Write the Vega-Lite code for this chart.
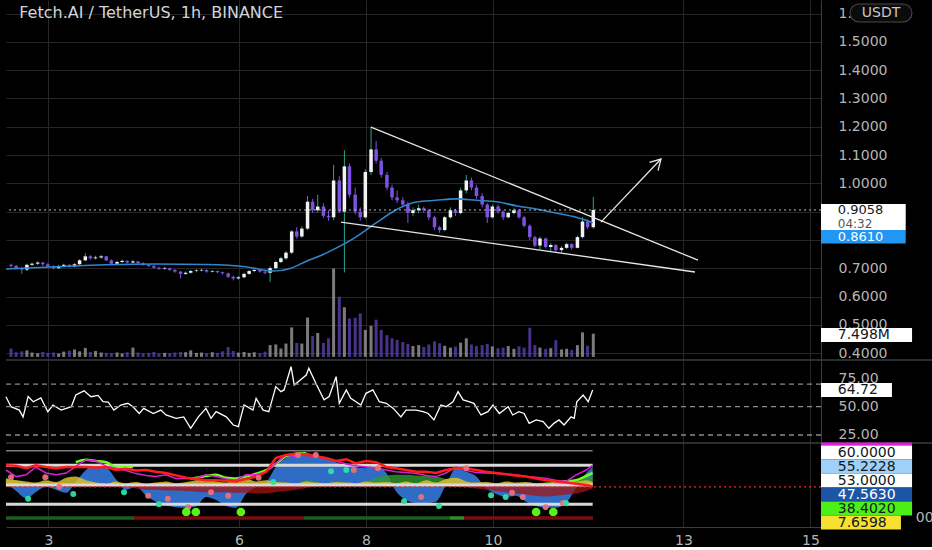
{
"$schema":"https://vega.github.io/schema/vega-lite/v6.json",
"background":"#000000",
"padding":0,
"spacing":0,
"bounds":"flush",
"config":{"view":{"stroke":null},"font":"DejaVu Sans","axis":{"labelFont":"DejaVu Sans","labelFontSize":14,"labelColor":"#b5b5b5","gridColor":"#262626","gridWidth":1,"domainColor":"#3c3c3c","ticks":false,"title":null,"labelOverlap":false}},
"datasets":{
"c":[
{"d":2.41,"o":0.712,"h":0.716,"l":0.702,"c":0.708,"v":2.7},{"d":2.49,"o":0.708,"h":0.712,"l":0.696,"c":0.700,"v":1.5},{"d":2.58,"o":0.700,"h":0.704,"l":0.680,"c":0.695,"v":1.8},{"d":2.66,"o":0.695,"h":0.716,"l":0.690,"c":0.712,"v":2.1},{"d":2.74,"o":0.712,"h":0.720,"l":0.708,"c":0.716,"v":1.4},{"d":2.83,"o":0.716,"h":0.724,"l":0.711,"c":0.720,"v":1.2},{"d":2.91,"o":0.720,"h":0.722,"l":0.708,"c":0.714,"v":1.6},{"d":2.99,"o":0.714,"h":0.718,"l":0.702,"c":0.706,"v":1.3},{"d":3.08,"o":0.706,"h":0.710,"l":0.696,"c":0.700,"v":1.4},{"d":3.16,"o":0.700,"h":0.712,"l":0.698,"c":0.708,"v":1.1},{"d":3.24,"o":0.708,"h":0.716,"l":0.704,"c":0.712,"v":1.7},{"d":3.33,"o":0.712,"h":0.714,"l":0.702,"c":0.706,"v":2.0},
{"d":3.41,"o":0.706,"h":0.718,"l":0.703,"c":0.714,"v":2.4},{"d":3.49,"o":0.714,"h":0.732,"l":0.712,"c":0.728,"v":1.8},{"d":3.58,"o":0.728,"h":0.753,"l":0.725,"c":0.742,"v":2.9},{"d":3.66,"o":0.742,"h":0.746,"l":0.730,"c":0.735,"v":1.6},{"d":3.74,"o":0.735,"h":0.744,"l":0.731,"c":0.738,"v":1.9},{"d":3.83,"o":0.738,"h":0.747,"l":0.734,"c":0.742,"v":1.4},{"d":3.91,"o":0.742,"h":0.744,"l":0.725,"c":0.728,"v":1.3},{"d":3.99,"o":0.728,"h":0.731,"l":0.712,"c":0.716,"v":1.2},{"d":4.08,"o":0.716,"h":0.726,"l":0.713,"c":0.722,"v":1.4},{"d":4.16,"o":0.722,"h":0.730,"l":0.719,"c":0.726,"v":1.1},{"d":4.24,"o":0.726,"h":0.728,"l":0.716,"c":0.720,"v":1.5},{"d":4.33,"o":0.720,"h":0.729,"l":0.717,"c":0.724,"v":3.0},
{"d":4.41,"o":0.724,"h":0.726,"l":0.714,"c":0.718,"v":1.4},{"d":4.49,"o":0.718,"h":0.721,"l":0.709,"c":0.712,"v":1.2},{"d":4.58,"o":0.712,"h":0.715,"l":0.704,"c":0.708,"v":1.3},{"d":4.66,"o":0.708,"h":0.711,"l":0.698,"c":0.702,"v":1.6},{"d":4.74,"o":0.702,"h":0.705,"l":0.694,"c":0.698,"v":1.1},{"d":4.83,"o":0.698,"h":0.705,"l":0.695,"c":0.700,"v":1.3},{"d":4.91,"o":0.700,"h":0.702,"l":0.690,"c":0.694,"v":1.2},{"d":4.99,"o":0.694,"h":0.697,"l":0.684,"c":0.688,"v":1.4},{"d":5.08,"o":0.688,"h":0.690,"l":0.664,"c":0.680,"v":1.6},{"d":5.16,"o":0.680,"h":0.688,"l":0.676,"c":0.684,"v":1.5},{"d":5.24,"o":0.684,"h":0.694,"l":0.681,"c":0.690,"v":2.1},{"d":5.33,"o":0.690,"h":0.697,"l":0.686,"c":0.692,"v":1.3},
{"d":5.41,"o":0.692,"h":0.699,"l":0.689,"c":0.694,"v":1.4},{"d":5.49,"o":0.694,"h":0.696,"l":0.684,"c":0.688,"v":1.2},{"d":5.58,"o":0.688,"h":0.694,"l":0.685,"c":0.690,"v":1.5},{"d":5.66,"o":0.690,"h":0.692,"l":0.682,"c":0.686,"v":1.3},{"d":5.74,"o":0.686,"h":0.688,"l":0.677,"c":0.682,"v":1.8},{"d":5.83,"o":0.682,"h":0.684,"l":0.665,"c":0.670,"v":3.2},{"d":5.91,"o":0.670,"h":0.673,"l":0.657,"c":0.664,"v":1.9},{"d":5.99,"o":0.664,"h":0.672,"l":0.660,"c":0.668,"v":1.4},{"d":6.08,"o":0.668,"h":0.684,"l":0.665,"c":0.680,"v":1.6},{"d":6.16,"o":0.680,"h":0.694,"l":0.677,"c":0.690,"v":1.3},{"d":6.24,"o":0.690,"h":0.698,"l":0.686,"c":0.694,"v":1.5},{"d":6.33,"o":0.694,"h":0.696,"l":0.684,"c":0.688,"v":1.2},
{"d":6.41,"o":0.688,"h":0.692,"l":0.679,"c":0.684,"v":1.7},{"d":6.49,"o":0.684,"h":0.706,"l":0.652,"c":0.700,"v":3.8},{"d":6.58,"o":0.700,"h":0.726,"l":0.697,"c":0.722,"v":4.0},{"d":6.66,"o":0.722,"h":0.740,"l":0.718,"c":0.735,"v":2.7},{"d":6.74,"o":0.735,"h":0.760,"l":0.730,"c":0.755,"v":4.3},{"d":6.83,"o":0.755,"h":0.835,"l":0.750,"c":0.830,"v":9.5},{"d":6.91,"o":0.830,"h":0.845,"l":0.805,"c":0.812,"v":4.5},{"d":6.99,"o":0.812,"h":0.848,"l":0.808,"c":0.840,"v":4.3},{"d":7.08,"o":0.840,"h":0.955,"l":0.835,"c":0.935,"v":12.7},{"d":7.16,"o":0.935,"h":0.945,"l":0.895,"c":0.905,"v":6.7},{"d":7.24,"o":0.905,"h":0.960,"l":0.898,"c":0.918,"v":7.7},{"d":7.33,"o":0.918,"h":0.930,"l":0.878,"c":0.885,"v":4.5},
{"d":7.41,"o":0.885,"h":0.905,"l":0.868,"c":0.880,"v":6.0},{"d":7.49,"o":0.880,"h":1.065,"l":0.870,"c":1.010,"v":28.5},{"d":7.58,"o":1.010,"h":1.025,"l":0.895,"c":0.900,"v":19.4},{"d":7.66,"o":0.900,"h":1.117,"l":0.685,"c":1.060,"v":16.0},{"d":7.74,"o":1.060,"h":1.070,"l":0.950,"c":0.960,"v":12.4},{"d":7.83,"o":0.960,"h":0.985,"l":0.890,"c":0.900,"v":12.6},{"d":7.91,"o":0.900,"h":0.915,"l":0.868,"c":0.880,"v":14.0},{"d":7.99,"o":0.880,"h":1.050,"l":0.875,"c":1.040,"v":8.7},{"d":8.08,"o":1.040,"h":1.200,"l":1.030,"c":1.120,"v":10.0},{"d":8.16,"o":1.120,"h":1.150,"l":1.070,"c":1.080,"v":12.0},{"d":8.24,"o":1.080,"h":1.090,"l":1.020,"c":1.030,"v":8.7},{"d":8.33,"o":1.030,"h":1.040,"l":0.975,"c":0.985,"v":7.0},
{"d":8.41,"o":0.985,"h":0.995,"l":0.940,"c":0.950,"v":6.0},{"d":8.49,"o":0.950,"h":0.975,"l":0.930,"c":0.940,"v":5.5},{"d":8.58,"o":0.940,"h":0.950,"l":0.915,"c":0.925,"v":4.8},{"d":8.66,"o":0.925,"h":0.935,"l":0.860,"c":0.895,"v":4.2},{"d":8.74,"o":0.895,"h":0.915,"l":0.885,"c":0.905,"v":3.5},{"d":8.83,"o":0.905,"h":0.925,"l":0.895,"c":0.912,"v":3.8},{"d":8.91,"o":0.912,"h":0.918,"l":0.895,"c":0.905,"v":3.2},{"d":8.99,"o":0.905,"h":0.910,"l":0.870,"c":0.880,"v":4.0},{"d":9.08,"o":0.880,"h":0.885,"l":0.835,"c":0.845,"v":5.0},{"d":9.16,"o":0.845,"h":0.850,"l":0.825,"c":0.835,"v":4.4},{"d":9.24,"o":0.835,"h":0.885,"l":0.830,"c":0.880,"v":3.6},{"d":9.33,"o":0.880,"h":0.915,"l":0.875,"c":0.905,"v":3.0},
{"d":9.41,"o":0.905,"h":0.910,"l":0.885,"c":0.895,"v":3.3},{"d":9.49,"o":0.895,"h":0.985,"l":0.890,"c":0.975,"v":4.6},{"d":9.58,"o":0.975,"h":1.030,"l":0.965,"c":1.010,"v":6.0},{"d":9.66,"o":1.010,"h":1.020,"l":0.975,"c":0.985,"v":4.0},{"d":9.74,"o":0.985,"h":0.995,"l":0.945,"c":0.955,"v":3.5},{"d":9.83,"o":0.955,"h":0.965,"l":0.915,"c":0.925,"v":3.8},{"d":9.91,"o":0.925,"h":0.930,"l":0.860,"c":0.880,"v":4.2},{"d":9.99,"o":0.880,"h":0.925,"l":0.875,"c":0.918,"v":3.4},{"d":10.08,"o":0.918,"h":0.925,"l":0.892,"c":0.900,"v":2.8},{"d":10.16,"o":0.900,"h":0.905,"l":0.870,"c":0.880,"v":3.0},{"d":10.24,"o":0.880,"h":0.900,"l":0.876,"c":0.895,"v":3.5},{"d":10.33,"o":0.895,"h":0.912,"l":0.890,"c":0.905,"v":2.6},
{"d":10.41,"o":0.905,"h":0.910,"l":0.875,"c":0.880,"v":3.4},{"d":10.49,"o":0.880,"h":0.885,"l":0.845,"c":0.850,"v":3.0},{"d":10.58,"o":0.850,"h":0.855,"l":0.800,"c":0.810,"v":9.4},{"d":10.66,"o":0.810,"h":0.815,"l":0.775,"c":0.780,"v":3.8},{"d":10.74,"o":0.780,"h":0.812,"l":0.765,"c":0.805,"v":3.0},{"d":10.83,"o":0.805,"h":0.808,"l":0.770,"c":0.775,"v":2.6},{"d":10.91,"o":0.775,"h":0.788,"l":0.760,"c":0.782,"v":2.8},{"d":10.99,"o":0.782,"h":0.785,"l":0.757,"c":0.764,"v":5.4},{"d":11.08,"o":0.764,"h":0.778,"l":0.755,"c":0.772,"v":2.4},{"d":11.16,"o":0.772,"h":0.790,"l":0.768,"c":0.785,"v":2.6},{"d":11.24,"o":0.785,"h":0.788,"l":0.765,"c":0.772,"v":2.2},{"d":11.33,"o":0.772,"h":0.815,"l":0.770,"c":0.810,"v":3.8},
{"d":11.41,"o":0.810,"h":0.880,"l":0.805,"c":0.865,"v":7.9},{"d":11.49,"o":0.865,"h":0.872,"l":0.838,"c":0.845,"v":3.6},{"d":11.58,"o":0.845,"h":0.952,"l":0.840,"c":0.9058,"v":7.498}
],
"ma":[{"d":2.33,"m":0.697},{"d":3.12,"m":0.705},{"d":3.91,"m":0.712},{"d":4.69,"m":0.715},{"d":5.48,"m":0.713},{"d":6.11,"m":0.705},{"d":6.54,"m":0.690},{"d":6.82,"m":0.700},{"d":7.06,"m":0.725},{"d":7.29,"m":0.745},{"d":7.53,"m":0.771},{"d":7.84,"m":0.810},{"d":8.16,"m":0.860},{"d":8.47,"m":0.906},{"d":8.79,"m":0.934},{"d":9.10,"m":0.940},{"d":9.42,"m":0.945},{"d":9.74,"m":0.940},{"d":10.06,"m":0.935},{"d":10.38,"m":0.920},{"d":10.68,"m":0.909},{"d":10.99,"m":0.895},{"d":11.31,"m":0.880},{"d":11.57,"m":0.861}],
"dr":[{"g":"u","d":8.079,"p":1.199,"o":0},{"g":"u","d":13.229,"p":0.7286,"o":1},{"g":"l","d":7.607,"p":0.863,"o":0},{"g":"l","d":13.181,"p":0.6866,"o":1},{"g":"a","d":11.701,"p":0.863,"o":0},{"g":"a","d":12.646,"p":1.086,"o":1},{"g":"h","d":12.465,"p":1.074,"o":0},{"g":"h","d":12.646,"p":1.086,"o":1},{"g":"h","d":12.6,"p":1.045,"o":2}],
"rsi":[{"d":2.33,"r":58.8},{"d":2.41,"r":50},{"d":2.54,"r":47},{"d":2.6,"r":41},{"d":2.68,"r":59},{"d":2.76,"r":54.4},{"d":2.88,"r":57.7},{"d":2.99,"r":45.6},{"d":3.07,"r":51.5},{"d":3.2,"r":47},{"d":3.36,"r":50},{"d":3.43,"r":60.3},{"d":3.56,"r":64},{"d":3.67,"r":58.8},{"d":3.78,"r":60},{"d":3.86,"r":54.4},{"d":3.94,"r":54},{"d":4.03,"r":47},{"d":4.14,"r":51.5},{"d":4.25,"r":53},{"d":4.33,"r":50},{"d":4.43,"r":44},{"d":4.5,"r":48.5},{"d":4.65,"r":44},{"d":4.77,"r":47},{"d":4.85,"r":42.7},{"d":5.01,"r":39.7},{"d":5.13,"r":41},{"d":5.24,"r":30.9},{"d":5.36,"r":41},{"d":5.48,"r":48.5},{"d":5.56,"r":39.7},{"d":5.64,"r":45.6},{"d":5.8,"r":41},{"d":5.91,"r":33.8},{"d":5.99,"r":32.3},{"d":6.08,"r":51.5},{"d":6.22,"r":47},{"d":6.27,"r":57.4},{"d":6.38,"r":47},{"d":6.47,"r":45.6},{"d":6.58,"r":67.7},{"d":6.66,"r":63.3},{"d":6.71,"r":64.8},{"d":6.82,"r":85.3},{"d":6.87,"r":69.2},{"d":7.06,"r":78},{"d":7.1,"r":84},{"d":7.21,"r":70.7},{"d":7.34,"r":56},{"d":7.42,"r":59},{"d":7.53,"r":76.5},{"d":7.58,"r":53},{"d":7.69,"r":64.8},{"d":7.76,"r":57.4},{"d":7.92,"r":51.5},{"d":8.0,"r":61.8},{"d":8.11,"r":64.8},{"d":8.21,"r":54.4},{"d":8.32,"r":53},{"d":8.43,"r":48.5},{"d":8.55,"r":41},{"d":8.63,"r":47},{"d":8.79,"r":47},{"d":8.9,"r":45.6},{"d":8.98,"r":44},{"d":9.07,"r":38.3},{"d":9.18,"r":51.5},{"d":9.26,"r":50},{"d":9.37,"r":54.4},{"d":9.45,"r":63.3},{"d":9.53,"r":56},{"d":9.62,"r":54.4},{"d":9.7,"r":53},{"d":9.81,"r":42.7},{"d":9.92,"r":45.6},{"d":10.0,"r":51.5},{"d":10.1,"r":44},{"d":10.24,"r":50},{"d":10.31,"r":42.7},{"d":10.41,"r":45.6},{"d":10.49,"r":44},{"d":10.57,"r":35.3},{"d":10.68,"r":38.3},{"d":10.79,"r":36.8},{"d":10.88,"r":30.9},{"d":10.96,"r":35.3},{"d":11.04,"r":38.3},{"d":11.12,"r":33.8},{"d":11.23,"r":41},{"d":11.28,"r":39.7},{"d":11.32,"r":54.4},{"d":11.42,"r":60.3},{"d":11.5,"r":54.4},{"d":11.57,"r":64.72}],
"osc":[
{"d":2.33,"B":5,"R":33,"M":25,"Y":10,"DR":-3,"G":12},{"d":2.49,"B":-10,"R":32,"M":14,"Y":8,"DR":-3,"G":8},{"d":2.65,"B":-22,"R":28,"M":17,"Y":6,"DR":-3,"G":3},{"d":2.80,"B":-12,"R":33,"M":30,"Y":4,"DR":-3,"G":0},{"d":2.96,"B":-3,"R":30,"M":20,"Y":8,"DR":-3,"G":0},{"d":3.12,"B":-8,"R":28,"M":17,"Y":5,"DR":-3,"G":0},{"d":3.28,"B":-13,"R":30,"M":20,"Y":12,"DR":-3,"G":0},{"d":3.43,"B":5,"R":30,"M":31,"Y":14,"DR":-3,"G":0},{"d":3.59,"B":25,"R":30,"M":42,"Y":8,"DR":-3,"G":0},{"d":3.75,"B":35,"R":29,"M":40,"Y":4,"DR":-3,"G":0},
{"d":3.91,"B":30,"R":30,"M":31,"Y":2,"DR":-3,"G":0},{"d":4.06,"B":10,"R":25,"M":28,"Y":6,"DR":-3,"G":0},{"d":4.22,"B":-8,"R":27,"M":24,"Y":3,"DR":-3,"G":0},{"d":4.38,"B":-3,"R":24,"M":19,"Y":5,"DR":-6,"G":0},{"d":4.54,"B":-18,"R":25,"M":16,"Y":2,"DR":-8,"G":0},{"d":4.69,"B":-28,"R":22,"M":14,"Y":4,"DR":-8,"G":0},{"d":4.85,"B":-34,"R":20,"M":17,"Y":6,"DR":-9,"G":0},{"d":5.01,"B":-37,"R":16,"M":11,"Y":3,"DR":-9,"G":0},{"d":5.17,"B":-38,"R":12,"M":11,"Y":5,"DR":-10,"G":0},{"d":5.32,"B":-36,"R":10,"M":11,"Y":8,"DR":-11,"G":0},
{"d":5.48,"B":-20,"R":8,"M":17,"Y":10,"DR":-12,"G":0},{"d":5.64,"B":-25,"R":8,"M":14,"Y":6,"DR":-12,"G":0},{"d":5.80,"B":-35,"R":7,"M":10,"Y":4,"DR":-12,"G":0},{"d":5.95,"B":-38,"R":6,"M":8,"Y":9,"DR":-13,"G":0},{"d":6.11,"B":-15,"R":10,"M":17,"Y":11,"DR":-13,"G":0},{"d":6.27,"B":-3,"R":14,"M":17,"Y":6,"DR":-14,"G":0},{"d":6.43,"B":5,"R":22,"M":22,"Y":8,"DR":-14,"G":0},{"d":6.58,"B":30,"R":45,"M":36,"Y":5,"DR":-12,"G":0},{"d":6.74,"B":45,"R":50,"M":50,"Y":4,"DR":-10,"G":0},{"d":6.90,"B":52,"R":52,"M":47,"Y":3,"DR":-8,"G":0},
{"d":7.06,"B":52,"R":50,"M":53,"Y":6,"DR":-5,"G":8},{"d":7.21,"B":50,"R":48,"M":48,"Y":4,"DR":-2,"G":5},{"d":7.37,"B":45,"R":45,"M":44,"Y":3,"DR":-2,"G":3},{"d":7.53,"B":38,"R":40,"M":40,"Y":5,"DR":-2,"G":2},{"d":7.69,"B":33,"R":43,"M":35,"Y":4,"DR":-2,"G":2},{"d":7.84,"B":30,"R":36,"M":32,"Y":3,"DR":-2,"G":3},{"d":8.00,"B":28,"R":40,"M":30,"Y":6,"DR":-2,"G":5},{"d":8.16,"B":32,"R":38,"M":28,"Y":4,"DR":-2,"G":12},{"d":8.32,"B":20,"R":30,"M":25,"Y":5,"DR":-2,"G":16},{"d":8.47,"B":-10,"R":28,"M":22,"Y":3,"DR":-2,"G":17},
{"d":8.63,"B":-25,"R":25,"M":21,"Y":6,"DR":-2,"G":17},{"d":8.79,"B":-30,"R":22,"M":19,"Y":3,"DR":-2,"G":16},{"d":8.95,"B":-30,"R":22,"M":16,"Y":8,"DR":-2,"G":15},{"d":9.10,"B":-28,"R":20,"M":14,"Y":4,"DR":-2,"G":14},{"d":9.26,"B":0,"R":25,"M":20,"Y":10,"DR":-2,"G":10},{"d":9.42,"B":28,"R":28,"M":30,"Y":12,"DR":-3,"G":3},{"d":9.58,"B":22,"R":28,"M":24,"Y":6,"DR":-4,"G":0},{"d":9.73,"B":15,"R":25,"M":21,"Y":4,"DR":-6,"G":0},{"d":9.89,"B":-5,"R":22,"M":20,"Y":5,"DR":-8,"G":0},{"d":10.05,"B":-15,"R":20,"M":19,"Y":3,"DR":-10,"G":0},
{"d":10.21,"B":-20,"R":18,"M":18,"Y":6,"DR":-12,"G":0},{"d":10.36,"B":-18,"R":16,"M":17,"Y":4,"DR":-14,"G":0},{"d":10.52,"B":-28,"R":14,"M":14,"Y":5,"DR":-16,"G":0},{"d":10.68,"B":-35,"R":11,"M":13,"Y":3,"DR":-18,"G":0},{"d":10.84,"B":-38,"R":8,"M":11,"Y":4,"DR":-19,"G":0},{"d":10.99,"B":-38,"R":6,"M":8,"Y":6,"DR":-18,"G":0},{"d":11.15,"B":-30,"R":4,"M":6,"Y":8,"DR":-16,"G":4},{"d":11.31,"B":-5,"R":2,"M":17,"Y":6,"DR":-14,"G":8},{"d":11.47,"B":20,"R":0,"M":25,"Y":8,"DR":-10,"G":12},{"d":11.57,"B":30,"R":-2,"M":33,"Y":5,"DR":-6,"G":15}
],
"lime":[{"s":"a","d":3.43,"L":38},{"s":"a","d":3.59,"L":42},{"s":"a","d":3.75,"L":40},{"s":"a","d":3.91,"L":38},{"s":"a","d":4.06,"L":30},{"s":"a","d":4.22,"L":30},{"s":"a","d":4.33,"L":30},{"s":"b","d":5.24,"L":10},{"s":"b","d":5.48,"L":15},{"s":"b","d":5.64,"L":17},{"s":"b","d":5.8,"L":12},{"s":"b","d":5.95,"L":11},{"s":"b","d":6.11,"L":14},{"s":"b","d":6.27,"L":19},{"s":"b","d":6.43,"L":25},{"s":"b","d":6.58,"L":35},{"s":"b","d":6.74,"L":48},{"s":"b","d":6.9,"L":52},{"s":"b","d":7.06,"L":53},{"s":"c","d":10.92,"L":5},{"s":"c","d":11.15,"L":6},{"s":"c","d":11.31,"L":8},{"s":"c","d":11.47,"L":15},{"s":"c","d":11.57,"L":20}],
"dots":[{"k":"p","d":2.41,"v":13},{"k":"p","d":2.95,"v":13},{"k":"p","d":3.17,"v":-3},{"k":"p","d":4.57,"v":-18},{"k":"p","d":4.88,"v":-23},{"k":"p","d":5.2,"v":-37},{"k":"p","d":5.56,"v":-12},{"k":"p","d":5.83,"v":-18},{"k":"p","d":6.31,"v":12},{"k":"p","d":6.93,"v":50},{"k":"p","d":7.21,"v":50},{"k":"p","d":7.81,"v":25},{"k":"p","d":8.19,"v":28},{"k":"p","d":8.87,"v":-20},{"k":"p","d":9.58,"v":28},{"k":"p","d":10.3,"v":-13},{"k":"p","d":10.47,"v":-20},{"k":"p","d":10.83,"v":-37},{"k":"p","d":11.1,"v":-30},
{"k":"t","d":2.68,"v":-23},{"k":"t","d":3.39,"v":-15},{"k":"t","d":4.19,"v":-12},{"k":"t","d":4.74,"v":-32},{"k":"t","d":6.54,"v":5},{"k":"t","d":7.45,"v":23},{"k":"t","d":7.69,"v":25},{"k":"t","d":8.6,"v":-27},{"k":"t","d":9.15,"v":-35},{"k":"t","d":9.97,"v":-17},{"k":"t","d":10.2,"v":-20},{"k":"t","d":11.15,"v":-30},
{"k":"l","d":5.17,"v":-45},{"k":"l","d":5.32,"v":-45},{"k":"l","d":6.03,"v":-45},{"k":"l","d":10.68,"v":-45},{"k":"l","d":10.95,"v":-45}],
"bar":[{"a":2.331,"b":4.347,"s":"g"},{"a":4.347,"b":7.024,"s":"r"},{"a":7.024,"b":9.323,"s":"g"},{"a":9.323,"b":9.544,"s":"G"},{"a":9.544,"b":11.575,"s":"r"}]
},
"vconcat":[
{"width":815,"height":360,
 "layer":[
  {"data":{"name":"c"},"mark":{"type":"rule","strokeWidth":3,"opacity":0.8},
   "encoding":{"x":{"field":"d","type":"quantitative","scale":{"domain":[2.331,15.166],"nice":false,"zero":false},"axis":{"values":[3,6,8,10,13,15],"tickCount":20,"grid":true,"labels":false,"domain":false,"title":null}},
    "y":{"field":"v","type":"quantitative","scale":{"domain":[-1,115.1],"nice":false,"zero":false},"axis":null},"y2":{"datum":0},
    "color":{"condition":{"test":"datum.c >= datum.o","value":"#9a9a9a"},"value":"#5a3fae"}}},
  {"layer":[
    {"data":{"name":"c"},"mark":{"type":"rule","strokeWidth":1},
     "encoding":{"x":{"field":"d","type":"quantitative"},
      "y":{"field":"l","type":"quantitative","scale":{"domain":[0.3756,1.648],"nice":false,"zero":false},"axis":{"orient":"right","values":[0.4,0.5,0.6,0.7,0.8,0.9,1,1.1,1.2,1.3,1.4,1.5,1.6],"tickCount":20,"format":".4f","labelExpr":"datum.value == 0.9 || datum.value == 0.8 ? '' : datum.label","labelOverlap":false,"labelBound":false,"grid":true,"domain":true,"labelPadding":17}},
      "y2":{"field":"h"},
      "color":{"condition":{"test":"datum.c >= datum.o","value":"#2aa58f"},"value":"#7c52e0"}}},
    {"data":{"name":"c"},"mark":{"type":"rule","strokeWidth":3.5},
     "encoding":{"x":{"field":"d","type":"quantitative"},"y":{"field":"o","type":"quantitative"},"y2":{"field":"c"},
      "color":{"condition":{"test":"datum.c >= datum.o","value":"#f2f2f2"},"value":"#7c52e0"}}},
    {"data":{"name":"ma"},"mark":{"type":"line","color":"#2f86cf","strokeWidth":1.6,"interpolate":"monotone"},
     "encoding":{"x":{"field":"d","type":"quantitative"},"y":{"field":"m","type":"quantitative"}}},
    {"data":{"values":[{}]},"mark":{"type":"rule","color":"#bdbdbd","strokeDash":[2,3],"strokeWidth":1},"encoding":{"y":{"datum":0.9058}}},
    {"data":{"name":"dr"},"mark":{"type":"line","color":"#e6e6e6","strokeWidth":1.3},
     "encoding":{"x":{"field":"d","type":"quantitative"},"y":{"field":"p","type":"quantitative"},"detail":{"field":"g"},"order":{"field":"o"}}},
    {"data":{"values":[{}]},"mark":{"type":"rule","strokeWidth":26,"color":"#ffffff"},"encoding":{"x":{"datum":15.166},"x2":{"datum":16.5},"y":{"datum":0.8809}}},
    {"data":{"values":[{}]},"mark":{"type":"rule","strokeWidth":13.5,"color":"#2196f3"},"encoding":{"x":{"datum":15.166},"x2":{"datum":16.5},"y":{"datum":0.8113}}},
    {"data":{"values":[{}]},"mark":{"type":"rule","strokeWidth":14,"color":"#ffffff"},"encoding":{"x":{"datum":15.166},"x2":{"datum":16.6},"y":{"datum":0.464}}},
    {"data":{"values":[{}]},"mark":{"type":"text","text":"0.9058","align":"left","fontSize":13,"color":"#131722"},"encoding":{"x":{"datum":15.43},"y":{"datum":0.9064}}},
    {"data":{"values":[{}]},"mark":{"type":"text","text":"04:32","align":"left","fontSize":12,"color":"#555555"},"encoding":{"x":{"datum":15.43},"y":{"datum":0.8575}}},
    {"data":{"values":[{}]},"mark":{"type":"text","text":"0.8610","align":"left","fontSize":13,"color":"#ffffff"},"encoding":{"x":{"datum":15.43},"y":{"datum":0.8113}}},
    {"data":{"values":[{}]},"mark":{"type":"text","text":"7.498M","align":"left","fontSize":14,"color":"#131722"},"encoding":{"x":{"datum":15.43},"y":{"datum":0.464}}},
    {"data":{"values":[{}]},"mark":{"type":"rule","strokeWidth":19,"strokeCap":"round","color":"#4a4a4a"},"encoding":{"x":{"datum":15.764},"x2":{"datum":16.457},"y":{"datum":1.602}}},
    {"data":{"values":[{}]},"mark":{"type":"rule","strokeWidth":17,"strokeCap":"round","color":"#0b0b0b"},"encoding":{"x":{"datum":15.764},"x2":{"datum":16.457},"y":{"datum":1.602}}},
    {"data":{"values":[{}]},"mark":{"type":"text","text":"USDT","align":"center","fontSize":14,"color":"#c8c8c8"},"encoding":{"x":{"datum":16.111},"y":{"datum":1.602}}},
    {"data":{"values":[{}]},"mark":{"type":"text","text":"Fetch.AI / TetherUS, 1h, BINANCE","align":"left","fontSize":16,"color":"#d1d4dc"},"encoding":{"x":{"datum":2.54},"y":{"datum":1.602}}}
  ]}
 ],
 "resolve":{"scale":{"y":"independent"}}
},
{"width":815,"height":83,
 "layer":[
  {"data":{"name":"rsi"},"mark":{"type":"line","color":"#ffffff","strokeWidth":1.3},
   "encoding":{"x":{"field":"d","type":"quantitative","scale":{"domain":[2.331,15.166],"nice":false,"zero":false},"axis":{"values":[3,6,8,10,13,15],"tickCount":20,"grid":true,"labels":false,"domain":false,"title":null}},
    "y":{"field":"r","type":"quantitative","scale":{"domain":[17.93,91.25],"nice":false,"zero":false},"axis":{"orient":"right","values":[25,50,75],"tickCount":10,"format":".2f","labelOverlap":false,"grid":false,"domain":true,"labelPadding":17}}}},
  {"data":{"values":[{"v":70},{"v":50},{"v":25}]},"mark":{"type":"rule","color":"#8a8a8a","strokeDash":[5,4],"strokeWidth":1.3},"encoding":{"y":{"field":"v","type":"quantitative"}}},
  {"data":{"values":[{}]},"mark":{"type":"rule","color":"#3c3c3c","strokeWidth":1.5},"encoding":{"x":{"datum":2.331},"x2":{"datum":17.0},"y":{"datum":91.25}}},
  {"data":{"values":[{}]},"mark":{"type":"rule","strokeWidth":14,"color":"#ffffff"},"encoding":{"x":{"datum":15.166},"x2":{"datum":16.283},"y":{"datum":64.72}}},
  {"data":{"values":[{}]},"mark":{"type":"text","text":"64.72","align":"left","fontSize":14,"color":"#131722"},"encoding":{"x":{"datum":15.43},"y":{"datum":64.72}}}
 ]
},
{"width":815,"height":84,
 "layer":[
  {"layer":[
    {"data":{"name":"osc"},"mark":{"type":"area","color":"#2e6cc6","interpolate":"monotone"},
     "encoding":{"x":{"field":"d","type":"quantitative","scale":{"domain":[2.331,15.166],"nice":false,"zero":false},"axis":{"values":[3,6,8,10,13,15],"tickCount":20,"grid":true,"labels":true,"format":"d","domain":true,"labelPadding":6,"title":null}},
      "y":{"field":"B","type":"quantitative","scale":{"domain":[-70,70],"nice":false,"zero":false},"axis":{"orient":"right","labels":false,"grid":false,"domain":true}},"y2":{"datum":0}}},
    {"data":{"name":"osc"},"mark":{"type":"area","color":"#a31414","opacity":0.75,"interpolate":"monotone"},
     "encoding":{"x":{"field":"d","type":"quantitative"},"y":{"field":"DR","type":"quantitative"},"y2":{"datum":0}}},
    {"data":{"name":"osc"},"mark":{"type":"area","color":"#2f9a2f","opacity":0.8,"interpolate":"monotone"},
     "encoding":{"x":{"field":"d","type":"quantitative"},"y":{"field":"G","type":"quantitative"},"y2":{"datum":0}}},
    {"data":{"name":"osc"},"mark":{"type":"area","color":"#d8c22a","opacity":0.85,"interpolate":"monotone"},
     "encoding":{"x":{"field":"d","type":"quantitative"},"y":{"field":"Y","type":"quantitative"},"y2":{"datum":0}}},
    {"data":{"values":[{}]},"mark":{"type":"rule","color":"#3c3c3c","strokeWidth":1.5},"encoding":{"x":{"datum":2.331},"x2":{"datum":17.0},"y":{"datum":70}}},
    {"data":{"values":[{}]},"mark":{"type":"rule","color":"#7a7a7a","strokeWidth":1.5},"encoding":{"x":{"datum":2.331},"x2":{"datum":11.57},"y":{"datum":57}}},
    {"data":{"values":[{"v":33},{"v":0},{"v":-32}]},"mark":{"type":"rule","color":"#d9d9d9","strokeWidth":3},"encoding":{"x":{"datum":2.331},"x2":{"datum":11.57},"y":{"field":"v","type":"quantitative"}}},
    {"data":{"values":[{}]},"mark":{"type":"rule","color":"#e03030","strokeDash":[2,3],"strokeWidth":1.2},"encoding":{"y":{"datum":-3}}},
    {"data":{"name":"lime"},"mark":{"type":"line","color":"#6dff1f","strokeWidth":2.5,"interpolate":"monotone"},
     "encoding":{"x":{"field":"d","type":"quantitative"},"y":{"field":"L","type":"quantitative"},"detail":{"field":"s"}}},
    {"data":{"name":"osc"},"mark":{"type":"line","color":"#d61fd6","strokeWidth":1.5},
     "encoding":{"x":{"field":"d","type":"quantitative"},"y":{"field":"M","type":"quantitative"}}},
    {"data":{"name":"osc"},"mark":{"type":"line","color":"#ff1c1c","strokeWidth":2.5},
     "encoding":{"x":{"field":"d","type":"quantitative"},"y":{"field":"R","type":"quantitative"}}},
    {"data":{"name":"dots"},"mark":{"type":"point","filled":true,"opacity":0.95},
     "encoding":{"x":{"field":"d","type":"quantitative"},"y":{"field":"v","type":"quantitative"},
      "color":{"condition":[{"test":"datum.k == 'p'","value":"#e8707a"},{"test":"datum.k == 't'","value":"#2ee0a8"}],"value":"#5cff1a"},
      "size":{"condition":{"test":"datum.k == 'l'","value":75},"value":35}}},
    {"data":{"name":"bar"},"mark":{"type":"rule","strokeWidth":3.5},
     "encoding":{"x":{"field":"a","type":"quantitative"},"x2":{"field":"b"},"y":{"datum":-55},
      "color":{"condition":[{"test":"datum.s == 'r'","value":"#7a0f0f"},{"test":"datum.s == 'G'","value":"#2e8b2e"}],"value":"#1d5e1d"}}},
    {"data":{"values":[{}]},"mark":{"type":"rule","strokeWidth":3,"color":"#e01ee0"},"encoding":{"x":{"datum":15.166},"x2":{"datum":16.6},"y":{"datum":68.5}}},
    {"data":{"values":[{}]},"mark":{"type":"text","text":"00","align":"left","fontSize":14,"color":"#b5b5b5"},"encoding":{"x":{"datum":16.66},"y":{"datum":-55}}}
  ]},
  {"data":{"values":[{"lbl":"60.0000"},{"lbl":"55.2228"},{"lbl":"53.0000"},{"lbl":"47.5630"},{"lbl":"38.4020"},{"lbl":"7.6598"}]},
   "encoding":{"y":{"field":"lbl","type":"nominal","scale":{"type":"point","domain":["60.0000","55.2228","53.0000","47.5630","38.4020","7.6598"],"padding":0.5},"axis":null}},
   "layer":[
    {"transform":[{"filter":"datum.lbl != '7.6598'"}],"mark":{"type":"rule","strokeWidth":13.8,"yOffset":2.5},
     "encoding":{"x":{"datum":15.166},"x2":{"datum":16.6},"stroke":{"field":"lbl","type":"nominal","scale":{"domain":["60.0000","55.2228","53.0000","47.5630","38.4020","7.6598"],"range":["#ffffff","#9fd0f7","#ffffff","#1d55a6","#4cf016","#f6e030"]},"legend":null}}},
    {"transform":[{"filter":"datum.lbl == '7.6598'"}],"mark":{"type":"rule","strokeWidth":13.8,"yOffset":2.5,"color":"#f6e030"},
     "encoding":{"x":{"datum":15.166},"x2":{"datum":16.425}}},
    {"mark":{"type":"text","align":"left","fontSize":14,"yOffset":2.5},
     "encoding":{"x":{"datum":15.43},"text":{"field":"lbl"},"fill":{"field":"lbl","type":"nominal","scale":{"domain":["60.0000","55.2228","53.0000","47.5630","38.4020","7.6598"],"range":["#131722","#131722","#131722","#ffffff","#131722","#131722"]},"legend":null}}}
   ]}
 ],
 "resolve":{"scale":{"y":"independent"}}
}
]
}
